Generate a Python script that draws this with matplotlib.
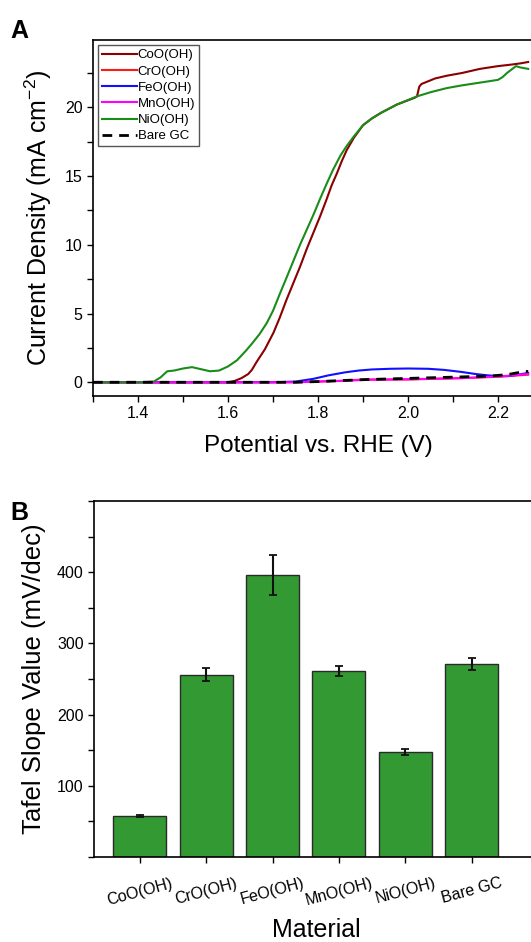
import numpy as np
import matplotlib
matplotlib.use("Agg")
import matplotlib.pyplot as plt
from matplotlib.ticker import MultipleLocator
import matplotlib.transforms as mtransforms

plt.rcParams['font.family'] = ['Liberation Sans', 'DejaVu Sans']
plt.rcParams['mathtext.fontset'] = 'custom'
plt.rcParams['mathtext.rm'] = 'Liberation Sans'
plt.rcParams['mathtext.it'] = 'Liberation Sans'
plt.rcParams['axes.linewidth'] = 1.2

# LSV curves, potential (V vs RHE) and current density (mA cm-2)
coo_v = [1.30, 1.60, 1.615, 1.63, 1.645, 1.653, 1.664, 1.682, 1.701, 1.715, 1.730, 1.745, 1.76,
         1.775, 1.79, 1.805, 1.819, 1.83, 1.842, 1.853, 1.864, 1.88, 1.90, 1.92, 1.94, 1.975,
         2.015, 2.02, 2.025, 2.03, 2.06, 2.086, 2.12, 2.16, 2.20, 2.227, 2.25, 2.267]
coo_j = [0.0, 0.0, 0.1, 0.3, 0.6, 0.9, 1.5, 2.4, 3.6, 4.7, 6.0, 7.2, 8.4,
         9.7, 10.9, 12.1, 13.3, 14.3, 15.2, 16.1, 16.9, 17.8, 18.7, 19.2, 19.6, 20.2,
         20.7, 20.8, 21.5, 21.7, 22.1, 22.3, 22.5, 22.8, 23.0, 23.1, 23.2, 23.3]

cro_v = [1.30, 1.75, 1.85, 1.90, 2.00, 2.12, 2.20, 2.267]
cro_j = [0.0, 0.0, 0.1, 0.2, 0.2, 0.3, 0.4, 0.55]

feo_v = [1.30, 1.70, 1.75, 1.79, 1.823, 1.86, 1.89, 1.919, 1.96, 2.00, 2.045, 2.08, 2.119,
         2.15, 2.178, 2.20, 2.222, 2.245, 2.267]
feo_j = [0.0, 0.0, 0.05, 0.25, 0.5, 0.72, 0.85, 0.93, 0.98, 1.0, 0.98, 0.9, 0.75,
         0.6, 0.5, 0.45, 0.45, 0.55, 0.68]

mno_v = [1.30, 1.75, 1.85, 1.91, 2.00, 2.12, 2.20, 2.24, 2.267]
mno_j = [0.0, 0.0, 0.1, 0.18, 0.22, 0.3, 0.42, 0.52, 0.6]

nio_v = [1.30, 1.40, 1.435, 1.45, 1.465, 1.48, 1.50, 1.52, 1.54, 1.56, 1.58, 1.60, 1.62,
         1.64, 1.653, 1.67, 1.686, 1.70, 1.716, 1.73, 1.745, 1.76, 1.775, 1.79, 1.804, 1.82,
         1.834, 1.85, 1.864, 1.88, 1.90, 1.92, 1.94, 1.975, 2.02, 2.05, 2.086, 2.12, 2.16,
         2.20, 2.21, 2.22, 2.24, 2.25, 2.267]
nio_j = [0.0, 0.0, 0.05, 0.35, 0.8, 0.85, 1.0, 1.1, 0.95, 0.8, 0.85, 1.15, 1.6,
         2.3, 2.8, 3.5, 4.3, 5.2, 6.5, 7.6, 8.8, 10.0, 11.1, 12.2, 13.3, 14.5,
         15.5, 16.5, 17.2, 17.9, 18.7, 19.2, 19.6, 20.2, 20.8, 21.1, 21.4, 21.6, 21.8,
         22.0, 22.2, 22.5, 23.0, 22.9, 22.8]

gc_v = [1.30, 1.75, 1.80, 1.85, 1.91, 2.00, 2.12, 2.18, 2.22, 2.245, 2.26, 2.267]
gc_j = [0.0, 0.0, 0.05, 0.12, 0.2, 0.28, 0.39, 0.45, 0.55, 0.7, 0.8, 0.78]

# Tafel slopes (mV/dec)
materials = ['CoO(OH)', 'CrO(OH)', 'FeO(OH)', 'MnO(OH)', 'NiO(OH)', 'Bare GC']
tafel = [58, 256, 396, 261, 147, 271]
tafel_err = [1.5, 9, 28, 7, 4, 8]

fig = plt.figure(figsize=(5.31, 9.42), dpi=100)

# ---- A: polarisation curves ----
axA = fig.add_axes([93 / 531, 546 / 942, 450 / 531, 356 / 942])
axA.plot(coo_v, coo_j, color='#8b0000', lw=1.5, label='CoO(OH)')
axA.plot(cro_v, cro_j, color='#ff1a1a', lw=1.5, label='CrO(OH)')
axA.plot(feo_v, feo_j, color='#1010ff', lw=1.5, label='FeO(OH)')
axA.plot(mno_v, mno_j, color='#ff00ff', lw=1.5, label='MnO(OH)')
axA.plot(nio_v, nio_j, color='#1a8c1a', lw=1.5, label='NiO(OH)')
axA.plot(gc_v, gc_j, color='black', lw=2, ls=(0, (3.5, 2.5)), label='Bare GC')

axA.set_xlim(1.3, 2.3)
axA.set_ylim(-1, 24.9)
axA.xaxis.set_minor_locator(MultipleLocator(0.1))
axA.yaxis.set_major_locator(MultipleLocator(5))
axA.yaxis.set_minor_locator(MultipleLocator(2.5))
axA.set_xticks([1.4, 1.6, 1.8, 2.0, 2.2])
axA.tick_params(which='major', direction='out', length=4.5, width=1, labelsize=11.5, pad=3)
axA.tick_params(which='minor', direction='out', length=4.5, width=1)
axA.tick_params(top=False, right=False, which='both')
axA.set_xlabel('Potential vs. RHE (V)', fontsize=17.5, labelpad=10)
axA.set_ylabel('Current Density (mA cm$^{-2}$)', fontsize=18, labelpad=8)

leg = axA.legend(loc='upper left', fontsize=9.5, frameon=True, fancybox=False,
                 edgecolor='#555555', framealpha=1, handlelength=2.6,
                 handletextpad=0.1, labelspacing=0.3, borderpad=0.3,
                 borderaxespad=0.4)
leg.get_frame().set_linewidth(1.0)

fig.text(10 / 531, 1 - 38 / 942, 'A', fontsize=18, fontweight='bold')

# ---- B: Tafel slopes ----
axB = fig.add_axes([94 / 531, 85 / 942, 444 / 531, 356 / 942])
x = np.arange(len(materials))
axB.bar(x, tafel, width=0.8, color='#339933', edgecolor='#2a2a2a', linewidth=1.0)
axB.errorbar(x, tafel, yerr=tafel_err, fmt='none', ecolor='#111111', elinewidth=1.5,
             capsize=3, capthick=1.3)

axB.set_xlim(-0.69, 6.0)
axB.set_ylim(0, 500)
axB.set_yticks([100, 200, 300, 400])
axB.yaxis.set_minor_locator(MultipleLocator(50))
axB.set_xticks(x)
axB.set_xticklabels(materials, rotation=15, fontsize=11.5)
shift = mtransforms.ScaledTranslation(-12 / 100, 0, fig.dpi_scale_trans)
for lab in axB.get_xticklabels():
    lab.set_transform(lab.get_transform() + shift)
axB.tick_params(which='major', direction='out', length=4.5, width=1, labelsize=11.5, pad=3)
axB.tick_params(axis='x', pad=9)
axB.tick_params(which='minor', direction='out', length=4.5, width=1)
axB.tick_params(top=False, right=False, which='both')
axB.set_xlabel('Material', fontsize=18, labelpad=7)
axB.set_ylabel('Tafel Slope Value (mV/dec)', fontsize=18.5, labelpad=8)

fig.text(10 / 531, 1 - 520 / 942, 'B', fontsize=18, fontweight='bold')

fig.savefig('out.png', dpi=100)
